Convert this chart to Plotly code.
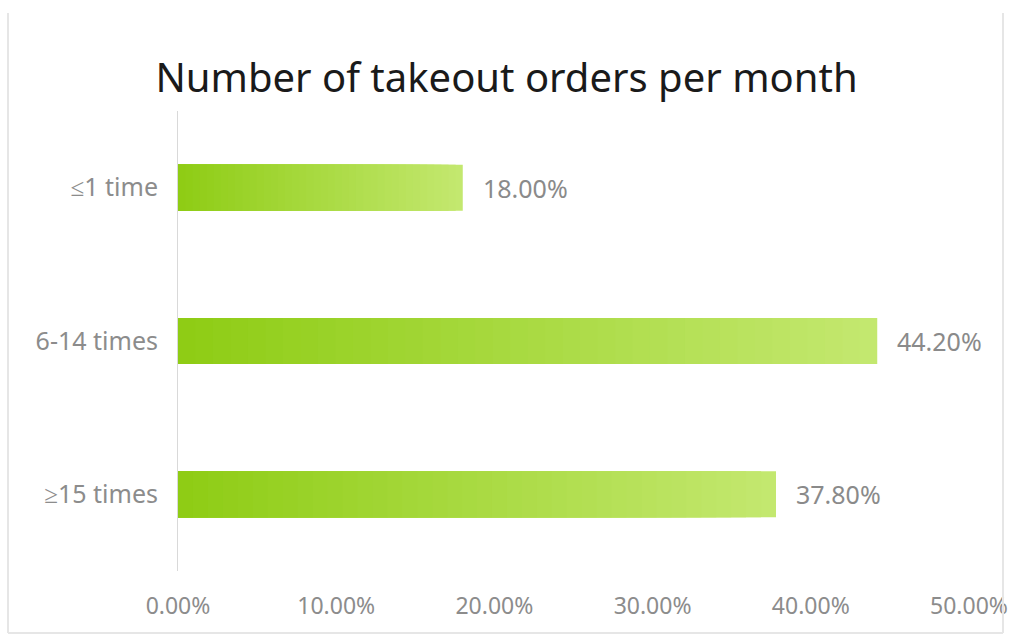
import plotly.graph_objects as go

categories = ["≤1 time", "6-14 times", "≥15 times"]
values = [18.0, 44.2, 37.8]
tick_vals = [0, 10, 20, 30, 40, 50]
tick_text = ["0.00%", "10.00%", "20.00%", "30.00%", "40.00%", "50.00%"]
title = "Number of takeout orders per month"

W, H = 1013, 642
L, R, T, B = 178, 44, 111, 71

dark = (142, 204, 20)
light = (196, 232, 112)
N = 40

fig = go.Figure()
for k in range(N):
    frac = (N - k) / N
    c = tuple(int(round(dark[i] + (light[i] - dark[i]) * ((N - k - 0.5) / N))) for i in range(3))
    fig.add_trace(go.Bar(
        y=categories, x=[v * frac for v in values], orientation="h",
        marker=dict(color="rgb(%d,%d,%d)" % c, line=dict(width=0)),
        hoverinfo="skip" if k else None, showlegend=False,
    ))

for cat, v in zip(categories, values):
    fig.add_annotation(x=v, y=cat, text="%.2f%%" % v, showarrow=False,
                       xanchor="left", xshift=18,
                       font=dict(family="Noto Sans", size=25, color="#8a8a8a"))

def px_x(p):
    return (p - L) / (W - L - R)

def px_y(p):
    return 1 - (p - T) / (H - T - B)

line_style = dict(color="#e6e6e6", width=2)
fig.add_shape(type="line", xref="paper", yref="paper", x0=px_x(8), x1=px_x(8), y0=px_y(13), y1=px_y(633), line=line_style)
fig.add_shape(type="line", xref="paper", yref="paper", x0=px_x(1003), x1=px_x(1003), y0=px_y(13), y1=px_y(633), line=line_style)
fig.add_shape(type="line", xref="paper", yref="paper", x0=px_x(8), x1=px_x(1003), y0=px_y(633), y1=px_y(633), line=line_style)

fig.update_layout(
    width=W, height=H, barmode="overlay", bargap=0.7,
    margin=dict(l=L, r=R, t=T, b=B, autoexpand=False),
    paper_bgcolor="white", plot_bgcolor="white",
    title=dict(text=title, x=0.5, xref="container", xanchor="center",
               y=1 - 78 / H, yanchor="middle",
               font=dict(family="Noto Sans", size=40, color="#1a1a1a")),
    xaxis=dict(range=[0, 50], tickvals=tick_vals, ticktext=tick_text,
               showgrid=False, zeroline=False, showline=False, ticks="",
               ticklabelstandoff=19, ticklabeloverflow="allow", automargin=False,
               tickfont=dict(family="Noto Sans", size=23, color="#8c8c8c")),
    yaxis=dict(categoryorder="array", categoryarray=categories[::-1],
               showgrid=False, zeroline=False, showline=True, linecolor="#d9d9d9",
               linewidth=1, ticks="", ticklabelstandoff=14, automargin=False,
               tickfont=dict(family="Noto Sans", size=25, color="#8c8c8c")),
)

fig.write_html("out.html")
